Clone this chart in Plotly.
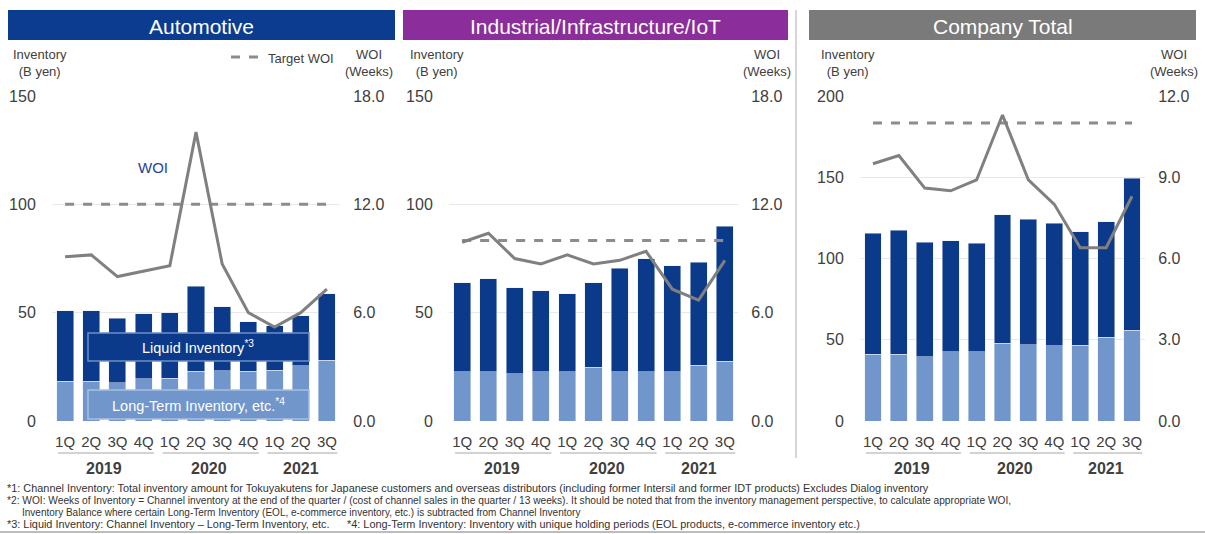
import plotly.graph_objects as go

W, H = 1205, 534

quarters = ["1Q", "2Q", "3Q", "4Q", "1Q", "2Q", "3Q", "4Q", "1Q", "2Q", "3Q"]
years = ["2019", "2020", "2021"]

# Automotive (B yen / weeks)
auto_long_term = [18.4, 18.4, 17.7, 19.4, 19.7, 23.0, 23.3, 23.0, 23.5, 25.5, 28.1]
auto_liquid = [32.4, 32.6, 29.8, 30.2, 30.2, 39.2, 29.4, 22.8, 20.5, 23.0, 30.7]
auto_woi = [9.1, 9.2, 8.0, 8.3, 8.6, 16.0, 8.7, 6.0, 5.2, 6.0, 7.3]
auto_target = 12.0

# Industrial / Infrastructure / IoT
ind_long_term = [22.7, 22.7, 21.7, 22.7, 22.7, 24.7, 22.7, 22.7, 22.7, 25.8, 27.6]
ind_liquid = [41.2, 43.0, 39.9, 37.5, 36.1, 39.0, 47.7, 52.3, 49.0, 47.5, 62.3]
ind_woi = [9.9, 10.4, 9.0, 8.7, 9.2, 8.7, 8.9, 9.4, 7.3, 6.7, 8.9]
ind_target = 10.0

# Company total
tot_long_term = [41.0, 41.2, 39.6, 42.5, 42.7, 47.8, 46.8, 46.4, 46.6, 51.5, 56.0]
tot_liquid = [74.5, 76.3, 70.4, 68.5, 66.6, 79.0, 77.3, 75.2, 69.9, 71.2, 93.3]
tot_woi = [9.5, 9.8, 8.6, 8.5, 8.9, 11.3, 8.9, 8.0, 6.4, 6.4, 8.3]
tot_target = 11.0

panel_titles = ["Automotive", "Industrial/Infrastructure/IoT", "Company Total"]
header_colors = ["#0B3C8F", "#8C2D9C", "#7A7A7A"]
left_ticks = [[0, 50, 100, 150], [0, 50, 100, 150], [0, 50, 100, 150, 200]]
right_ticks = [[0, 6, 12, 18], [0, 6, 12, 18], [0, 3, 6, 9, 12]]

DARK = "#0C3A8B"
LIGHT = "#7096CB"
LINE = "#808080"
TXT = "#404040"
FONT = "Liberation Sans, Arial, sans-serif"

# pixel geometry of each panel
plot_px = [(52, 340), (449, 738), (860, 1145)]
header_px = [(8, 395), (403, 788), (809, 1196)]
y_bottom_px, y_top_px = 421, 96


def px_x(x):
    return x / W


def px_y(y):
    return 1 - y / H


panels = [
    (auto_long_term, auto_liquid, auto_woi, auto_target),
    (ind_long_term, ind_liquid, ind_woi, ind_target),
    (tot_long_term, tot_liquid, tot_woi, tot_target),
]

fig = go.Figure()
xs = list(range(len(quarters)))
layout = {}
shapes = []
annotations = []

for p, (lt, lq, woi, target) in enumerate(panels):
    xname = "x" if p == 0 else f"x{p + 1}"
    yl_idx = 2 * p + 1
    yr_idx = 2 * p + 2
    yl = "y" if yl_idx == 1 else f"y{yl_idx}"
    yr = f"y{yr_idx}"

    fig.add_trace(go.Bar(x=xs, y=lt, marker_color=LIGHT, xaxis=xname, yaxis=yl,
                         showlegend=False, name="Long-Term Inventory"))
    fig.add_trace(go.Bar(x=xs, y=lq, marker_color=DARK, xaxis=xname, yaxis=yl,
                         showlegend=False, name="Liquid Inventory"))
    fig.add_trace(go.Scatter(x=xs, y=[target] * len(xs), mode="lines",
                             line=dict(color="#8C8C8C", width=3, dash="dash"),
                             xaxis=xname, yaxis=yr, showlegend=False, name="Target WOI"))
    fig.add_trace(go.Scatter(x=xs, y=woi, mode="lines",
                             line=dict(color=LINE, width=3),
                             xaxis=xname, yaxis=yr, showlegend=False, name="WOI"))

    x0, x1 = plot_px[p]
    xkey = "xaxis" if p == 0 else f"xaxis{p + 1}"
    layout[xkey] = dict(
        domain=[px_x(x0), px_x(x1)], range=[-0.5, len(xs) - 0.5],
        anchor=yl, tickvals=xs, ticktext=quarters,
        tickfont=dict(size=15, color=TXT, family=FONT),
        ticks="outside", ticklen=7, tickcolor="rgba(0,0,0,0)",
        showgrid=False, zeroline=False, showline=False, automargin=False,
        fixedrange=True,
    )
    ylkey = "yaxis" if yl_idx == 1 else f"yaxis{yl_idx}"
    lt_ticks = left_ticks[p]
    layout[ylkey] = dict(
        domain=[px_y(y_bottom_px), px_y(y_top_px)],
        range=[0, lt_ticks[-1]], anchor=xname, side="left",
        tickvals=lt_ticks, ticktext=[str(v) for v in lt_ticks],
        tickfont=dict(size=16, color=TXT, family=FONT),
        ticks="outside", ticklen=12, tickcolor="rgba(0,0,0,0)",
        showgrid=True, gridcolor="#E8E8E8", gridwidth=1,
        zeroline=False, showline=False, automargin=False,
    )
    rt = right_ticks[p]
    layout[f"yaxis{yr_idx}"] = dict(
        overlaying=yl, anchor=xname, side="right",
        range=[0, rt[-1]], tickvals=rt, ticktext=[f"{v:.1f}" for v in rt],
        tickfont=dict(size=16, color=TXT, family=FONT),
        ticks="outside", ticklen=9, tickcolor="rgba(0,0,0,0)",
        showgrid=False, zeroline=False, showline=False, automargin=False,
    )

    # header bar
    hx0, hx1 = header_px[p]
    shapes.append(dict(type="rect", xref="paper", yref="paper",
                       x0=px_x(hx0), x1=px_x(hx1), y0=px_y(40), y1=px_y(10),
                       fillcolor=header_colors[p], line=dict(width=0), layer="below"))
    annotations.append(dict(text=panel_titles[p], xref="paper", yref="paper",
                            x=px_x((hx0 + hx1) / 2), y=px_y(26), showarrow=False,
                            font=dict(size=21, color="white", family=FONT),
                            xanchor="center", yanchor="middle"))

    # axis captions
    annotations.append(dict(text="Inventory<br>(B yen)", xref="paper", yref="paper",
                            x=px_x(x0 - 12), y=px_y(63), showarrow=False,
                            font=dict(size=13, color=TXT, family=FONT),
                            xanchor="center", yanchor="middle", align="center"))
    annotations.append(dict(text="WOI<br>(Weeks)", xref="paper", yref="paper",
                            x=px_x(x1 + 29), y=px_y(63), showarrow=False,
                            font=dict(size=13, color=TXT, family=FONT),
                            xanchor="center", yanchor="middle", align="center"))

    # year groups under the quarter labels
    groups = [(0, 3, 1.5), (4, 7, 5.5), (8, 10, 9.0)]
    for (g0, g1, gc), yr_label in zip(groups, years):
        shapes.append(dict(type="line", xref=xname, yref="paper",
                           x0=g0 - 0.27, x1=g1 + 0.4, y0=px_y(453), y1=px_y(453),
                           line=dict(color="#A6A6A6", width=1)))
        annotations.append(dict(text=f"<b>{yr_label}</b>", xref=xname, yref="paper",
                                x=gc, y=px_y(468), showarrow=False,
                                font=dict(size=16, color=TXT, family=FONT),
                                xanchor="center", yanchor="middle"))

# separator between segment panels and company total
shapes.append(dict(type="line", xref="paper", yref="paper",
                   x0=px_x(796), x1=px_x(796), y0=px_y(458), y1=px_y(10),
                   line=dict(color="#C8C8C8", width=1.5)))

# Automotive panel keys
shapes.append(dict(type="line", xref="paper", yref="paper",
                   x0=px_x(231), x1=px_x(262), y0=px_y(57), y1=px_y(57),
                   line=dict(color="#8C8C8C", width=3, dash="dash")))
annotations.append(dict(text="Target WOI", xref="paper", yref="paper",
                        x=px_x(266), y=px_y(58), showarrow=False,
                        font=dict(size=13, color=TXT, family=FONT),
                        xanchor="left", yanchor="middle"))
annotations.append(dict(text="WOI", xref="paper", yref="paper",
                        x=px_x(153), y=px_y(167), showarrow=False,
                        font=dict(size=15, color="#1F4597", family=FONT),
                        xanchor="center", yanchor="middle"))
shapes.append(dict(type="rect", xref="paper", yref="paper",
                   x0=px_x(88), x1=px_x(309), y0=px_y(361), y1=px_y(333),
                   fillcolor=DARK, line=dict(color="#6F8DC6", width=1.5), layer="above"))
annotations.append(dict(text="Liquid Inventory<sup>*3</sup>", xref="paper", yref="paper",
                        x=px_x(198), y=px_y(347), showarrow=False,
                        font=dict(size=14.5, color="white", family=FONT),
                        xanchor="center", yanchor="middle"))
shapes.append(dict(type="rect", xref="paper", yref="paper",
                   x0=px_x(88), x1=px_x(309), y0=px_y(419), y1=px_y(390),
                   fillcolor=LIGHT, line=dict(color="#A9BEE2", width=1.5), layer="above"))
annotations.append(dict(text="Long-Term Inventory, etc.<sup>*4</sup>", xref="paper", yref="paper",
                        x=px_x(198), y=px_y(405), showarrow=False,
                        font=dict(size=14.5, color="white", family=FONT),
                        xanchor="center", yanchor="middle"))

# footnotes: (text, left px, middle px, font size)
footnotes = [
    ("*1: Channel Inventory: Total inventory amount for Tokuyakutens for Japanese customers and overseas distributors "
     "(including former Intersil and former IDT products) Excludes Dialog inventory", 5, 488, 10.9),
    ("*2: WOI: Weeks of Inventory = Channel inventory at the end of the quarter / (cost of channel sales in the quarter / 13 weeks). "
     "It should be noted that from the inventory management perspective, to calculate appropriate WOI,", 5, 500, 10.2),
    ("Inventory Balance where certain Long-Term Inventory (EOL, e-commerce inventory, etc.) is subtracted from Channel Inventory",
     20, 512, 10.0),
    ("*3: Liquid Inventory: Channel Inventory \u2013 Long-Term Inventory, etc.", 5, 524, 10.9),
    ("*4: Long-Term Inventory: Inventory with unique holding periods (EOL products, e-commerce inventory etc.)", 345, 524, 10.9),
]
for text, fx, fy, fs in footnotes:
    annotations.append(dict(text=text, xref="paper", yref="paper",
                            x=px_x(fx), y=px_y(fy), showarrow=False,
                            font=dict(size=fs, color="#333333", family=FONT),
                            xanchor="left", yanchor="middle"))

shapes.append(dict(type="line", xref="paper", yref="paper",
                   x0=0, x1=1, y0=px_y(532), y1=px_y(532),
                   line=dict(color="#BDBDBD", width=2)))

fig.update_layout(
    width=W, height=H, autosize=False,
    margin=dict(l=0, r=0, t=0, b=0, pad=0),
    paper_bgcolor="white", plot_bgcolor="white",
    barmode="stack", bargap=0.35,
    font=dict(family=FONT, color=TXT),
    shapes=shapes, annotations=annotations,
    showlegend=False,
    **layout,
)

fig.write_html("out.html", config={"displayModeBar": False})
